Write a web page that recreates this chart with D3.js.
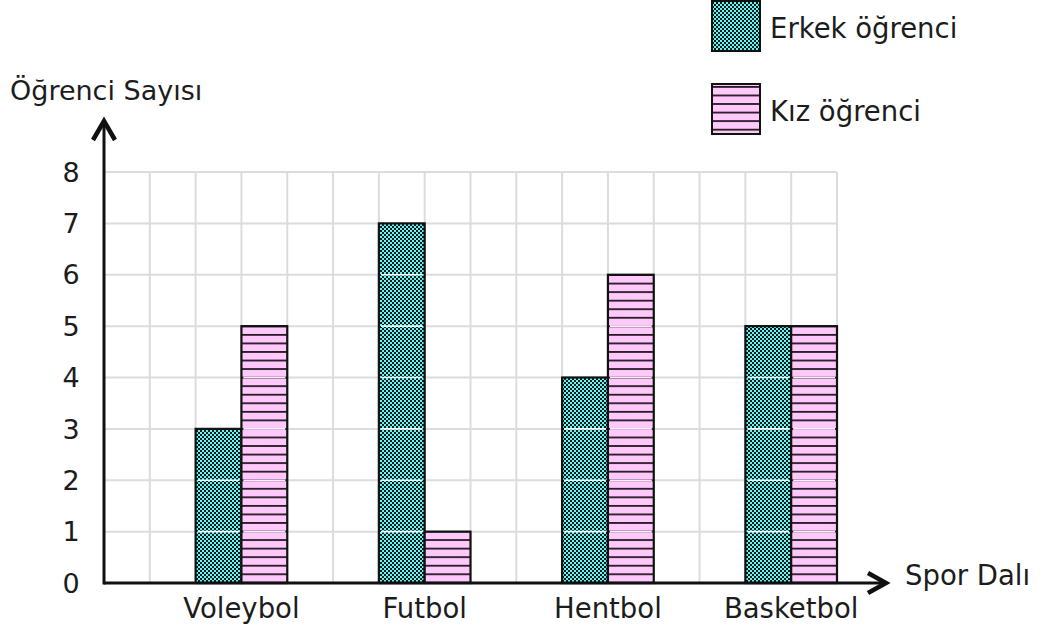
<!DOCTYPE html>
<html lang="tr">

<head>
    <meta charset="UTF-8">
    <title>Spor Dalı - Öğrenci Sayısı</title>
    <script src="https://d3js.org/d3.v7.min.js"></script>
    <style>
        body {
            margin: 0;
            background-color: white;
        }

        text {
            font-family: "DejaVu Sans", Verdana, sans-serif;
            fill: #1c1c1c;
        }
    </style>
</head>

<body>

    <svg width="1046" height="634" id="chart"></svg>

    <script>
        // chart data
        const categories = ["Voleybol", "Futbol", "Hentbol", "Basketbol"];
        const erkekValues = [3, 7, 4, 5];
        const kizValues = [5, 1, 6, 5];
        const yTicks = [0, 1, 2, 3, 4, 5, 6, 7, 8];
        const seriesNames = ["Erkek öğrenci", "Kız öğrenci"];
        const axisTitles = ["Öğrenci Sayısı", "Spor Dalı"];

        const svg = d3.select("#chart");
        const defs = svg.append("defs");

        // grid is 16 columns wide, each group takes 4 columns, shifted by one
        const nCols = 16;
        const col = d3.scaleLinear().domain([0, nCols]).range([104, 837]);
        const colW = col(1) - col(0);
        const x = d3.scaleBand().domain(categories).range([col(1), col(17)]).padding(0);
        const y = d3.scaleLinear().domain([0, 8]).range([583, 172]);

        // patterns
        const checker = defs.append("pattern")
            .attr("id", "checker")
            .attr("patternUnits", "userSpaceOnUse")
            .attr("width", 4).attr("height", 4);
        checker.append("rect").attr("width", 4).attr("height", 4).attr("fill", "#101c1c");
        checker.append("rect").attr("width", 2).attr("height", 2).attr("fill", "#66f5f2");
        checker.append("rect").attr("x", 2).attr("y", 2).attr("width", 2).attr("height", 2).attr("fill", "#66f5f2");

        const stripes = defs.append("pattern")
            .attr("id", "stripes")
            .attr("patternUnits", "userSpaceOnUse")
            .attr("width", 10).attr("height", 8.55)
            .attr("y", 0.5);
        stripes.append("rect").attr("width", 10).attr("height", 8.55).attr("fill", "#ffc8fb");
        stripes.append("rect").attr("width", 10).attr("height", 1.8).attr("fill", "#241a24");

        // grid
        svg.append("g").selectAll("line")
            .data(d3.range(1, 9))
            .join("line")
            .attr("x1", col(0)).attr("x2", col(nCols))
            .attr("y1", d => y(d)).attr("y2", d => y(d))
            .attr("stroke", "#dcdcdc").attr("stroke-width", 2);

        svg.append("g").selectAll("line")
            .data(d3.range(1, nCols + 1))
            .join("line")
            .attr("x1", d => col(d)).attr("x2", d => col(d))
            .attr("y1", y(8)).attr("y2", y(0))
            .attr("stroke", "#dcdcdc").attr("stroke-width", 2);

        // bars, drawn unit by unit like in the reference
        function drawBar(x0, value, fill, sep) {
            const g = svg.append("g");
            g.append("rect")
                .attr("x", x0).attr("y", y(value))
                .attr("width", colW).attr("height", y(0) - y(value))
                .attr("fill", fill);
            g.selectAll("line")
                .data(d3.range(1, value))
                .join("line")
                .attr("x1", x0 + 2).attr("x2", x0 + colW - 2)
                .attr("y1", d => y(d)).attr("y2", d => y(d))
                .attr("stroke", sep).attr("stroke-width", 1.6);
            g.append("rect")
                .attr("x", x0).attr("y", y(value))
                .attr("width", colW).attr("height", y(0) - y(value))
                .attr("fill", "none")
                .attr("stroke", "#111").attr("stroke-width", 2.2);
        }

        categories.forEach((c, i) => {
            const mid = x(c) + x.bandwidth() / 2;
            drawBar(mid - colW, erkekValues[i], "url(#checker)", "#f4ffff");
            drawBar(mid, kizValues[i], "url(#stripes)", "#ffeeff");
        });

        // axes
        svg.append("line")
            .attr("x1", col(0)).attr("x2", 886)
            .attr("y1", y(0)).attr("y2", y(0))
            .attr("stroke", "#111").attr("stroke-width", 3);
        svg.append("line")
            .attr("x1", col(0)).attr("x2", col(0))
            .attr("y1", y(0) + 1.5).attr("y2", 121)
            .attr("stroke", "#111").attr("stroke-width", 3);

        // arrow heads
        svg.append("path")
            .attr("d", `M${col(0) - 11},140 L${col(0)},121 L${col(0) + 11},140`)
            .attr("fill", "none").attr("stroke", "#111").attr("stroke-width", 4.5)
            .attr("stroke-linejoin", "miter");
        svg.append("path")
            .attr("d", `M868,${y(0) - 10} L886,${y(0)} L868,${y(0) + 10}`)
            .attr("fill", "none").attr("stroke", "#111").attr("stroke-width", 4.5)
            .attr("stroke-linejoin", "miter");

        // y tick labels
        svg.append("g").selectAll("text")
            .data(yTicks)
            .join("text")
            .attr("x", 71)
            .attr("y", d => y(d))
            .attr("dy", "0.36em")
            .attr("text-anchor", "middle")
            .attr("font-size", 27)
            .text(d => d);

        // category labels
        svg.append("g").selectAll("text")
            .data(categories)
            .join("text")
            .attr("x", d => x(d) + x.bandwidth() / 2)
            .attr("y", 618)
            .attr("text-anchor", "middle")
            .attr("font-size", 27.5)
            .text(d => d);

        // axis titles
        svg.append("text")
            .attr("x", 10).attr("y", 100)
            .attr("font-size", 27)
            .text(axisTitles[0]);
        svg.append("text")
            .attr("x", 905).attr("y", 585)
            .attr("font-size", 27.5)
            .text(axisTitles[1]);

        // legend
        const legendFills = ["url(#checker)", "url(#stripes)"];
        const legendY = [1, 84];
        seriesNames.forEach((name, i) => {
            svg.append("rect")
                .attr("x", 712).attr("y", legendY[i])
                .attr("width", 48).attr("height", 50)
                .attr("fill", legendFills[i])
                .attr("stroke", "#111").attr("stroke-width", 2);
            svg.append("text")
                .attr("x", 770).attr("y", legendY[i] + 37)
                .attr("font-size", 27.5)
                .text(name);
        });
    </script>

</body>

</html>
